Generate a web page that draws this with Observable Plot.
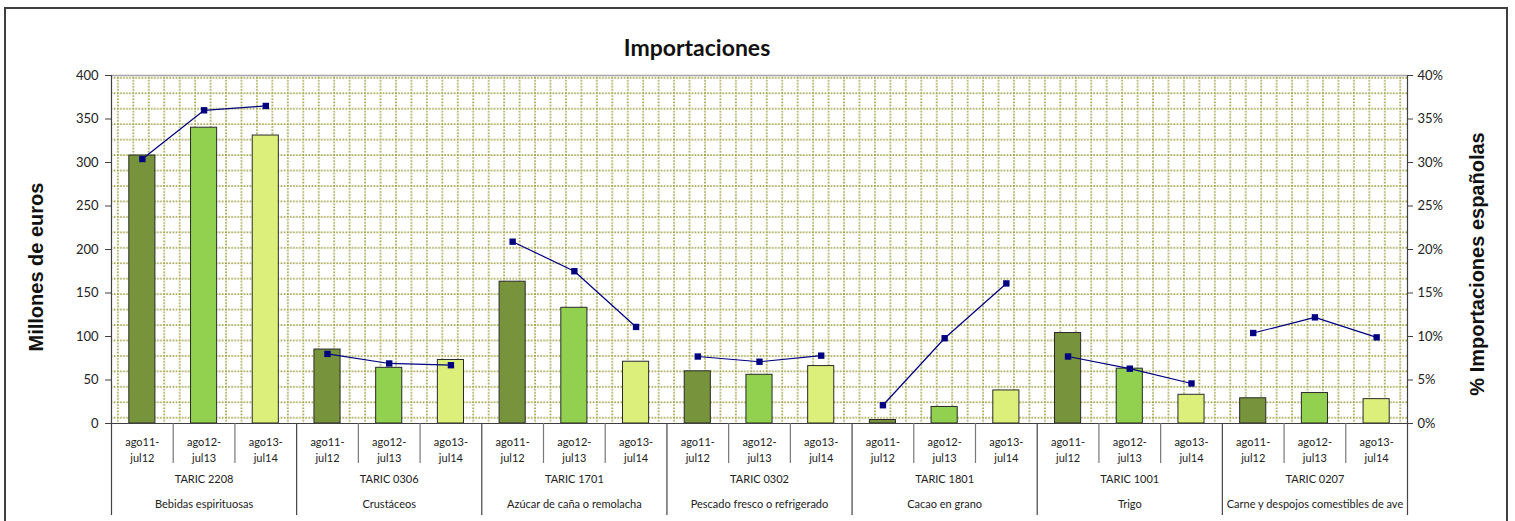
<!DOCTYPE html>
<html>
<head>
<meta charset="utf-8">
<script src="https://cdn.jsdelivr.net/npm/d3@7"></script>
<script src="https://cdn.jsdelivr.net/npm/@observablehq/plot@0.6"></script>
<style>
  html, body { margin: 0; padding: 0; background: #fff; }
  #wrap { position: relative; width: 1515px; height: 521px; overflow: hidden; font-family: Lato, "Open Sans", sans-serif; }
  #border { position: absolute; left: 4px; top: 7px; width: 1500px; height: 600px; border: 2px solid #3f3f3f; box-sizing: content-box; pointer-events: none; }
  #chart { position: absolute; left: 0; top: 0; }
  .title { position: absolute; left: 0; width: 1394px; top: 33px; text-align: center; font: bold 23px Lato, sans-serif; color: #111; }
  .ytitle { position: absolute; white-space: nowrap; transform: translate(-50%, -50%) rotate(-90deg); font: bold 20px "Liberation Sans", Arial, sans-serif; color: #111; }
</style>
</head>
<body>
<div id="wrap">
  <div id="chart"></div>
  <div id="border"></div>
  <div class="title">Importaciones</div>
  <div class="ytitle" style="left:36px; top:267px;">Millones de euros</div>
  <div class="ytitle" style="left:1477px; top:264px;">% Importaciones españolas</div>
</div>
<script>
// ---- data ----
const groupNames = ["Bebidas espirituosas", "Crustáceos", "Azúcar de caña o remolacha", "Pescado fresco o refrigerado", "Cacao en grano", "Trigo", "Carne y despojos comestibles de ave"];
const taricCodes = ["TARIC 2208", "TARIC 0306", "TARIC 1701", "TARIC 0302", "TARIC 1801", "TARIC 1001", "TARIC 0207"];
const periods = ["ago11-jul12", "ago12-jul13", "ago13-jul14"];
const periodLabels = ["ago11-\njul12", "ago12-\njul13", "ago13-\njul14"];
// Importaciones (millones de euros), por grupo y periodo
const importsMillions = [
  [308, 340, 331],
  [85, 64, 73],
  [163, 133, 71],
  [60, 56, 66],
  [4, 19, 38],
  [104, 63, 33],
  [29, 35, 28]
];
// % de las importaciones españolas
const sharePct = [
  [30.4, 36.0, 36.5],
  [8.0, 6.9, 6.7],
  [20.9, 17.5, 11.1],
  [7.7, 7.1, 7.8],
  [2.1, 9.8, 16.1],
  [7.7, 6.3, 4.6],
  [10.4, 12.2, 9.9]
];
const leftTicks = [0, 50, 100, 150, 200, 250, 300, 350, 400];
const periodColors = ["#77933C", "#92D050", "#DDEF7B"];

// ---- build table ----
const rows = [];
groupNames.forEach((g, gi) => {
  periods.forEach((p, pi) => {
    rows.push({i: gi * 3 + pi, group: g, taric: taricCodes[gi], period: p, label: periodLabels[pi],
               value: importsMillions[gi][pi], pct: sharePct[gi][pi]});
  });
});
const groupRows = groupNames.map((g, gi) => ({i: gi * 3 + 1, name: g, taric: taricCodes[gi]}));
const innerSeps = rows.filter(d => d.i % 3 !== 2).map(d => d.i + 0.5);
const groupSeps = [-0.5, ...groupRows.map(d => d.i + 1.5)];
const pctToLeft = 10; // 40% <-> 400

const svg = Plot.plot({
  width: 1515,
  height: 521,
  marginLeft: 111,
  marginRight: 108,
  marginTop: 75,
  marginBottom: 98,
  style: {fontFamily: "Lato, 'Open Sans', sans-serif", fontSize: "13px", color: "#222", background: "transparent"},
  x: {type: "linear", domain: [-0.5, 20.5], axis: null},
  y: {domain: [0, 400], axis: null},
  color: {domain: periods, range: periodColors},
  marks: [
    Plot.frame({fill: "url(#dotgrid)", stroke: null}),
    Plot.ruleY([400], {stroke: "#a6a6a6", strokeWidth: 1.5}),
    Plot.rectY(rows, {x1: d => d.i - 0.5, x2: d => d.i + 0.5, y1: 0, y2: "value", fill: "period",
                      insetLeft: 17.8, insetRight: 17.8, stroke: "#2a2a2a", strokeWidth: 1}),
    Plot.line(rows, {x: "i", y: d => d.pct * pctToLeft, z: "group", stroke: "#000080", strokeWidth: 1.2}),
    Plot.dot(rows, {x: "i", y: d => d.pct * pctToLeft, symbol: "square", fill: "#000080", r: 3.6}),
    Plot.ruleY([0], {stroke: "#404040", strokeWidth: 1.2}),
    Plot.ruleX([-0.5, 20.5], {stroke: "#404040", strokeWidth: 1.2}),
    Plot.axisY({anchor: "left", label: null, ticks: leftTicks, tickSize: 6, tickPadding: 7, stroke: "#404040", fontSize: 13}),
    Plot.axisY({anchor: "right", label: null, ticks: leftTicks, tickSize: 5, tickPadding: 5, tickFormat: d => (d / pctToLeft) + "%", stroke: "#404040", fontSize: 13}),
    Plot.ruleX(innerSeps, {y1: 0, y2: 0, insetBottom: -40, stroke: "#777", strokeWidth: 1.2}),
    Plot.ruleX(groupSeps, {y1: 0, y2: 0, insetBottom: -92, stroke: "#444", strokeWidth: 1.2}),
    Plot.text(rows, {x: "i", text: "label", frameAnchor: "bottom", dy: 25.6, lineAnchor: "middle", lineHeight: 1.45, fontSize: 11, fill: "#222"}),
    Plot.text(groupRows, {x: "i", text: "taric", frameAnchor: "bottom", dy: 59, fontSize: 11, fill: "#222"}),
    Plot.text(groupRows, {x: "i", text: "name", frameAnchor: "bottom", dy: 84, fontSize: 11, fill: "#222"})
  ]
});

// dotted grid pattern for the plot area background
const ns = "http://www.w3.org/2000/svg";
const defs = document.createElementNS(ns, "defs");
const pat = document.createElementNS(ns, "pattern");
const cell = 15.45;
pat.setAttribute("id", "dotgrid");
pat.setAttribute("patternUnits", "userSpaceOnUse");
pat.setAttribute("width", cell);
pat.setAttribute("height", cell);
pat.setAttribute("x", 116.4);
pat.setAttribute("y", 76.3);
const bg = document.createElementNS(ns, "rect");
bg.setAttribute("width", cell); bg.setAttribute("height", cell); bg.setAttribute("fill", "#fff");
pat.appendChild(bg);
const mk = (x1, y1, x2, y2) => {
  const l = document.createElementNS(ns, "line");
  l.setAttribute("x1", x1); l.setAttribute("y1", y1); l.setAttribute("x2", x2); l.setAttribute("y2", y2);
  l.setAttribute("stroke", "#a0a044");
  l.setAttribute("stroke-width", 1.7);
  l.setAttribute("stroke-dasharray", "1.6 1.49");
  pat.appendChild(l);
};
mk(0, 1, cell, 1);
mk(1, 0, 1, cell);
defs.appendChild(pat);
svg.insertBefore(defs, svg.firstChild);

document.getElementById("chart").appendChild(svg);
</script>
</body>
</html>
